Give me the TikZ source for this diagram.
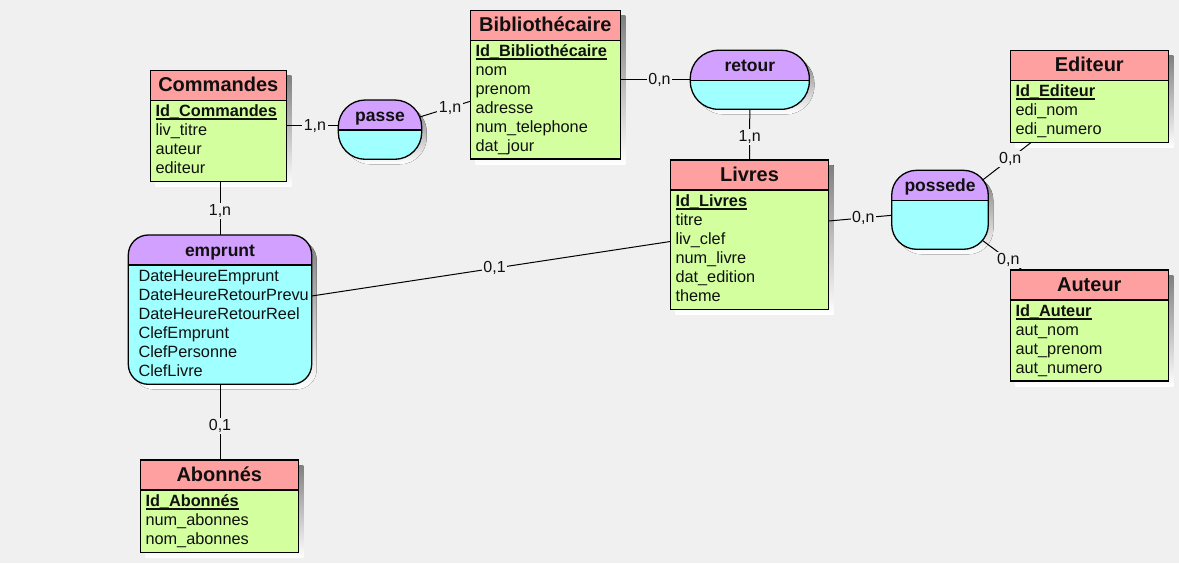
\documentclass[tikz,border=0pt]{standalone}
\usepackage{fontspec}
\setmainfont{Liberation Sans}
\usetikzlibrary{calc}
\definecolor{bg}{HTML}{F0F0F0}
\definecolor{ehead}{HTML}{FFA0A0}
\definecolor{ebody}{HTML}{D4FF9F}
\definecolor{rhead}{HTML}{D2A0FF}
\definecolor{rbody}{HTML}{A0FFFF}
\definecolor{shade}{HTML}{C2C2C2}
\definecolor{ink}{HTML}{101010}
\newcommand\keyul[1]{\setbox0\hbox{#1}\rlap{\usebox0}\raisebox{-3.6pt}{\rule{\wd0}{1.6pt}}}
\tikzset{
  boxnode/.style={inner sep=0pt, outer sep=0pt, anchor=north west},
  edge/.style={draw=black, line width=1.3pt},
  conn/.style={draw=black, line width=1pt},
  lbl/.style={fill=bg, inner sep=1.5pt, text=ink, font=\fontsize{16}{19}\selectfont},
  titletext/.style={text=ink, font=\fontsize{20}{24}\selectfont\bfseries, inner sep=0pt},
  reltext/.style={text=ink, font=\fontsize{17.5}{21}\selectfont\bfseries, inner sep=0pt},
  attrtext/.style={text=ink, font=\fontsize{16.3}{19}\selectfont, inner sep=0pt},
}
\newcommand\entity[6]{%
  \fill[shade] (#2+5,#3+5) rectangle ++(#4,#5);
  \node[boxnode, fill=ebody, minimum width=#4pt, minimum height=#5pt] (#1) at (#2,#3) {};
  \fill[ehead] (#1.north west) rectangle ($(#1.north east)+(0,30)$);
  \draw[edge] (#1.north west) rectangle (#1.south east);
  \draw[edge] ($(#1.north west)+(0,30)$) -- ($(#1.north east)+(0,30)$);
  \node[titletext, anchor=base] (#1-t) at ($(#1.north)+(0,21)$) {#6};
}
\newcommand\relation[7]{%
  \fill[shade, rounded corners=#6pt] (#2+5,#3+5) rectangle ++(#4,#5);
  \node[boxnode, minimum width=#4pt, minimum height=#5pt] (#1) at (#2,#3) {};
  \begin{scope}
    \clip[rounded corners=#6pt] (#1.north west) rectangle (#1.south east);
    \fill[rbody] (#1.north west) rectangle (#1.south east);
    \fill[rhead] (#1.north west) rectangle ($(#1.north east)+(0,30)$);
  \end{scope}
  \draw[edge, rounded corners=#6pt] (#1.north west) rectangle (#1.south east);
  \draw[edge] ($(#1.north west)+(0,30)$) -- ($(#1.north east)+(0,30)$);
  \node[reltext, anchor=base] (#1-t) at ($(#1.north)+(0,21)$) {#7};
}
\newcommand\keyrow[3]{%
  \node[attrtext, anchor=base west] (#1-k) at ($(#1.north west)+(#2,46)$) {\bfseries\keyul{#3}};
}
\newcommand\attrrows[3]{%
  \foreach \a [count=\i] in {#3}
    \node[attrtext, anchor=base west] (#1-a\i) at ($(#1.north west)+(#2,27+19*\i)$) {\a};
}
\begin{document}
\begin{tikzpicture}[x=1pt, y=-1pt]
\fill[bg] (0,0) rectangle (1179,563);
\useasboundingbox (0,0) rectangle (1179,563);

% entities
\entity{cmd}{150.3}{70.3}{136}{111}{Commandes}
\keyrow{cmd}{5}{Id\_Commandes}
\attrrows{cmd}{5}{,liv\_titre,auteur,editeur}

\entity{bib}{470.3}{10.3}{150}{148.7}{Bibliothécaire}
\keyrow{bib}{5}{Id\_Bibliothécaire}
\attrrows{bib}{5}{,nom,prenom,adresse,num\_telephone,dat\_jour}

\entity{liv}{670.3}{160}{158.4}{149.3}{Livres}
\keyrow{liv}{5}{Id\_Livres}
\attrrows{liv}{5}{,titre,liv\_clef,num\_livre,dat\_edition,theme}

\entity{edi}{1010.3}{50.3}{158}{92}{Editeur}
\keyrow{edi}{5}{Id\_Editeur}
\attrrows{edi}{5}{,edi\_nom,edi\_numero}

\entity{aut}{1010.3}{270}{158}{111}{Auteur}
\keyrow{aut}{5}{Id\_Auteur}
\attrrows{aut}{5}{,aut\_nom,aut\_prenom,aut\_numero}

\entity{abo}{140.3}{460}{158}{92.3}{Abonnés}
\keyrow{abo}{5}{Id\_Abonnés}
\attrrows{abo}{5}{,num\_abonnes,nom\_abonnes}

% relations
\relation{passe}{338.3}{100}{83.4}{59.3}{27}{passe}
\relation{ret}{690.3}{50.3}{119}{59}{28}{retour}
\relation{pos}{891.7}{170.3}{96.6}{79}{25}{possede}
\relation{emp}{128.3}{235}{183.4}{149.3}{20}{emprunt}
\begin{scope}
  \clip[rounded corners=20pt] (emp.north west) rectangle (emp.south east);
  \attrrows{emp}{10}{DateHeureEmprunt,DateHeureRetourPrevu,DateHeureRetourReel,ClefEmprunt,ClefPersonne,ClefLivre}
\end{scope}

% connectors
\draw[conn] (cmd.east) -- node[lbl, pos=0.55] {1,n} (passe.west |- cmd.east);
\draw[conn] ($(passe.north east)+(-2,17)$) -- node[lbl, pos=0.6] {1,n} ($(bib.north west)+(0,91)$);
\draw[conn] (ret.west -| bib.east) -- node[lbl, pos=0.56] {0,n} (ret.west);
\draw[conn] (ret.south) -- node[lbl, pos=0.55] {1,n} (liv.north);
\draw[conn] ($(liv.north east)+(0,61)$) -- node[lbl, pos=0.55] {0,n} ($(pos.north west)+(0,45)$);
\draw[conn] ($(pos.north east)+(-6,10)$) -- node[lbl, pos=0.57] {0,n} ($(edi.south west)+(21,0)$);
\draw[conn] ($(pos.south east)+(-6,-9)$) -- node[lbl, pos=0.65] {0,n} ($(aut.north west)+(12,0)$);
\draw[conn] (emp.north |- cmd.south) -- node[lbl, pos=0.55] {1,n} (emp.north);
\draw[conn] (emp.south) -- node[lbl, pos=0.55] {0,1} (emp.south |- abo.north);
\draw[conn] ($(emp.north east)+(0,61)$) -- node[lbl, pos=0.51] {0,1} ($(liv.north west)+(0,81.5)$);
\end{tikzpicture}
\end{document}
